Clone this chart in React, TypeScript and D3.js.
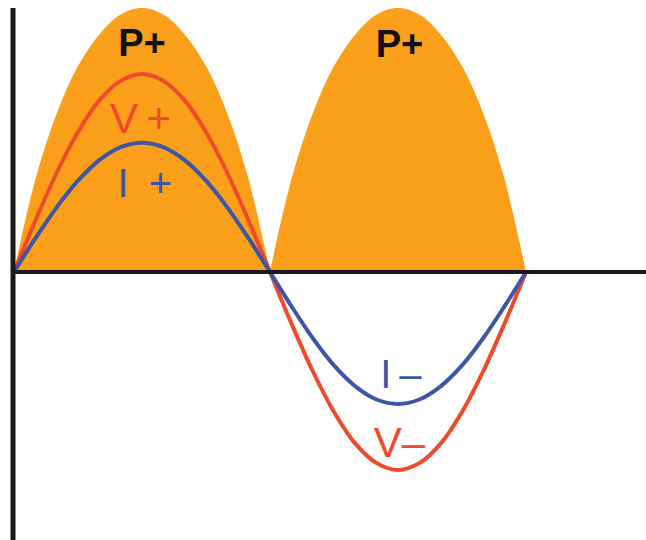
import React from "react";
import * as d3 from "d3";

const phases = [0, 15, 30, 45, 60, 75, 90, 105, 120, 135, 150, 165, 180, 195, 210, 225, 240, 255, 270, 285, 300, 315, 330, 345, 360];
const powerValues = [0, 0.35, 0.6, 0.78, 0.9, 0.975, 1, 0.975, 0.9, 0.78, 0.6, 0.35, 0, 0.35, 0.6, 0.78, 0.9, 0.975, 1, 0.975, 0.9, 0.78, 0.6, 0.35, 0];
const voltageValues = [0, 0.194, 0.375, 0.53, 0.65, 0.724, 0.75, 0.724, 0.65, 0.53, 0.375, 0.194, 0, -0.194, -0.375, -0.53, -0.65, -0.724, -0.75, -0.724, -0.65, -0.53, -0.375, -0.194, 0];
const currentValues = [0, 0.127, 0.245, 0.346, 0.424, 0.473, 0.49, 0.473, 0.424, 0.346, 0.245, 0.127, 0, -0.129, -0.25, -0.354, -0.433, -0.483, -0.5, -0.483, -0.433, -0.354, -0.25, -0.129, 0];

const labels = [
  { text: "P+", phase: 90, value: 0.82, color: "#111111", bold: true, size: 38 },
  { text: "P+", phase: 271, value: 0.815, color: "#111111", bold: true, size: 38 },
  { text: "V\u2009+", phase: 89, value: 0.525, color: "#ef4a2a", bold: false, size: 42 },
  { text: "I\u2002+", phase: 92, value: 0.285, color: "#3f56a6", bold: false, size: 40 },
  { text: "I\u2009–", phase: 272, value: -0.44, color: "#3f56a6", bold: false, size: 40 },
  { text: "V–", phase: 271, value: -0.7, color: "#ef4a2a", bold: false, size: 42 },
];

export default function App() {
  const W = 646, H = 540;
  const x = d3.scaleLinear().domain([0, 360]).range([14, 526]);
  const y = d3.scaleLinear().domain([0, 1]).range([272, 8]);

  const pts = phases.map((p, i) => ({ p, P: powerValues[i], V: voltageValues[i], I: currentValues[i] }));
  const hump1 = pts.filter((d) => d.p <= 180);
  const hump2 = pts.filter((d) => d.p >= 180);
  const curve = d3.curveCatmullRom.alpha(0.5);

  const area = d3
    .area<any>()
    .x((d) => x(d.p))
    .y0(y(0))
    .y1((d) => y(d.P))
    .curve(curve);

  const lineV = d3.line<any>().x((d) => x(d.p)).y((d) => y(d.V)).curve(curve);
  const lineI = d3.line<any>().x((d) => x(d.p)).y((d) => y(d.I)).curve(curve);

  return (
    <svg width={W} height={H} style={{ position: "absolute", left: 0, top: 0, background: "#fff" }}>
      <path d={area(hump1) || ""} fill="#fa9f19" />
      <path d={area(hump2) || ""} fill="#fa9f19" />
      <path d={lineV(pts) || ""} fill="none" stroke="#ef4a2a" strokeWidth={4} />
      <path d={lineI(pts) || ""} fill="none" stroke="#3f56a6" strokeWidth={4} />
      <line x1={11} x2={W} y1={y(0)} y2={y(0)} stroke="#1a1a1a" strokeWidth={4} />
      <line x1={13} x2={13} y1={8} y2={H} stroke="#1a1a1a" strokeWidth={5} />
      {labels.map((l, i) => (
        <text
          key={i}
          x={x(l.phase)}
          y={y(l.value)}
          textAnchor="middle"
          fill={l.color}
          fontFamily="'Liberation Sans', Arial, sans-serif"
          fontWeight={l.bold ? "bold" : "normal"}
          fontSize={l.size}
        >
          {l.text}
        </text>
      ))}
    </svg>
  );
}
